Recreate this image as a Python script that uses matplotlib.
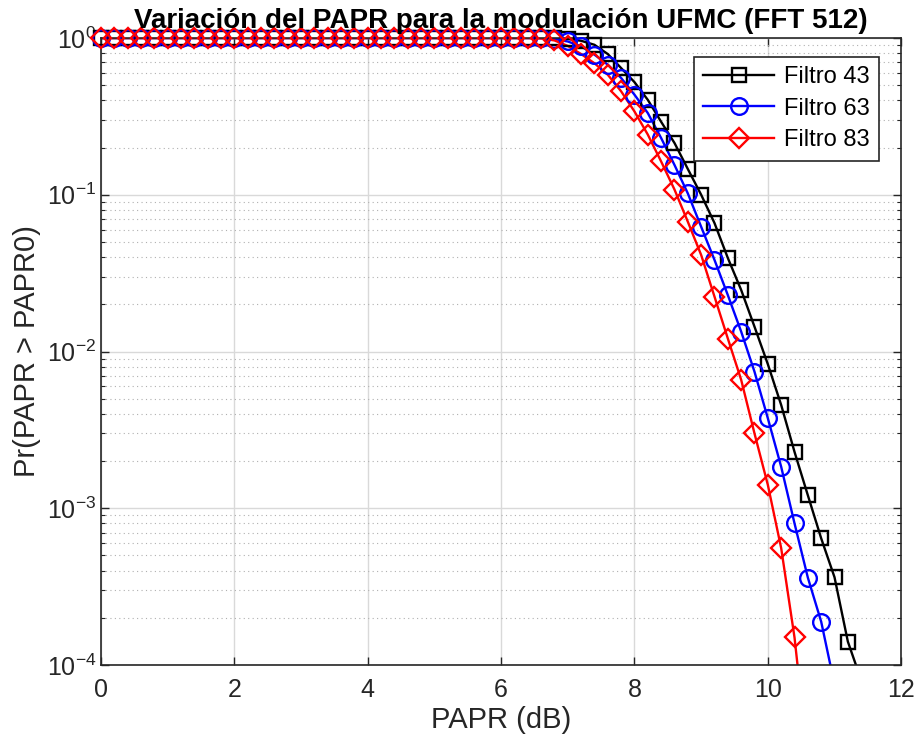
import numpy as np
import matplotlib
matplotlib.use("Agg")
import matplotlib.pyplot as plt
from matplotlib.lines import Line2D
from matplotlib.ticker import LogLocator, NullFormatter, MultipleLocator

plt.rcParams['font.family'] = ['Liberation Sans', 'DejaVu Sans']
plt.rcParams['mathtext.fontset'] = 'custom'
plt.rcParams['mathtext.rm'] = 'Liberation Sans'

# PAPR0 grid (dB), step 0.2
papr_db = [0.0, 0.2, 0.4, 0.6, 0.8, 1.0, 1.2, 1.4, 1.6, 1.8,
           2.0, 2.2, 2.4, 2.6, 2.8, 3.0, 3.2, 3.4, 3.6, 3.8,
           4.0, 4.2, 4.4, 4.6, 4.8, 5.0, 5.2, 5.4, 5.6, 5.8,
           6.0, 6.2, 6.4, 6.6, 6.8, 7.0, 7.2, 7.4, 7.6, 7.8,
           8.0, 8.2, 8.4, 8.6, 8.8, 9.0, 9.2, 9.4, 9.6, 9.8,
           10.0, 10.2, 10.4, 10.6, 10.8, 11.0, 11.2, 11.4]

flat = [1.0, 1.0, 1.0, 1.0, 1.0, 1.0, 1.0, 1.0, 1.0, 1.0,
        1.0, 1.0, 1.0, 1.0, 1.0, 1.0, 1.0, 1.0, 1.0, 1.0,
        1.0, 1.0, 1.0, 1.0, 1.0, 1.0, 1.0, 1.0, 1.0, 1.0,
        1.0, 1.0, 1.0]  # 0 .. 6.4 dB

# CCDF tails, starting at 6.6 dB
ccdf_43 = flat + [1.0, 0.995, 0.985, 0.96, 0.905, 0.79, 0.643, 0.523, 0.403,
                  0.292, 0.214, 0.146, 0.100, 0.066, 0.0395, 0.0247, 0.0144,
                  0.0083, 0.00456, 0.00229, 0.00121, 0.000643, 0.000363,
                  0.000141, 8e-5]
ccdf_63 = flat + [0.998, 0.985, 0.95, 0.885, 0.783, 0.676, 0.556, 0.435, 0.332,
                  0.230, 0.155, 0.102, 0.0625, 0.0384, 0.0229, 0.0134, 0.00743,
                  0.00375, 0.00184, 0.000801, 0.000361, 0.000189, 7.5e-5]
ccdf_83 = flat + [0.995, 0.965, 0.89, 0.79, 0.69, 0.583, 0.457, 0.340, 0.242,
                  0.163, 0.108, 0.0673, 0.0413, 0.0224, 0.0121, 0.0066, 0.0030,
                  0.00141, 0.000557, 0.000150, 2.5e-5]

series = [
    (ccdf_43, 'Filtro 43', 'k', 's', 9.5),
    (ccdf_63, 'Filtro 63', (0, 0, 1), 'o', 12),
    (ccdf_83, 'Filtro 83', (1, 0, 0), 'D', 10),
]

fig = plt.figure(figsize=(9.14, 7.38), dpi=100)
ax = fig.add_axes([0.1105, 0.0989, 0.8755, 0.8496])

handles = []
for vals, label, color, marker, ms in series:
    x = np.array(papr_db[:len(vals)])
    y = np.array(vals)
    ax.semilogy(x, y, color=color, lw=1.7)
    keep = y >= 1e-4
    ax.semilogy(x[keep], y[keep], ls='none', marker=marker, ms=ms, mfc='none',
                mec=color, mew=1.7, clip_on=False, zorder=3)
    handles.append(Line2D([], [], color=color, lw=1.7, marker=marker, ms=ms,
                          mfc='none', mew=1.7, label=label))

ax.set_xlim(0, 12)
ax.set_ylim(1e-4, 1)
ax.xaxis.set_major_locator(MultipleLocator(2))
ax.yaxis.set_major_locator(LogLocator(base=10))
ax.yaxis.set_minor_locator(LogLocator(base=10, subs=np.arange(2, 10)))
ax.yaxis.set_minor_formatter(NullFormatter())

ax.grid(True, which='major', color='#d9d9d9', lw=1.0, ls='-')
ax.grid(True, which='minor', axis='y', color='#b0b0b0', lw=0.8, ls=(0, (1, 3)))
ax.set_axisbelow(True)

ax.tick_params(which='both', direction='in', top=True, right=True,
               labelsize=18, colors='#262626')
ax.tick_params(which='major', length=6, width=1)
ax.tick_params(which='minor', length=3, width=0.8)
ax.tick_params(axis='x', pad=9)
for sp in ax.spines.values():
    sp.set_color('#262626')
    sp.set_linewidth(1.2)

ax.set_xlabel('PAPR (dB)', fontsize=21, color='#262626', labelpad=3)
ax.set_ylabel('Pr(PAPR > PAPR0)', fontsize=21, color='#262626', labelpad=4)
ax.set_title('Variación del PAPR para la modulación UFMC (FFT 512)',
             fontsize=20, fontweight='bold', pad=7)

leg = ax.legend(handles=handles, loc='upper right',
                bbox_to_anchor=(0.972, 0.97), fontsize=17,
                fancybox=False, framealpha=1, edgecolor='#262626',
                handlelength=3.0, borderpad=0.4, labelspacing=0.4,
                handletextpad=0.4, borderaxespad=0)
leg.get_frame().set_linewidth(1.2)

fig.savefig('out.png', dpi=100)
